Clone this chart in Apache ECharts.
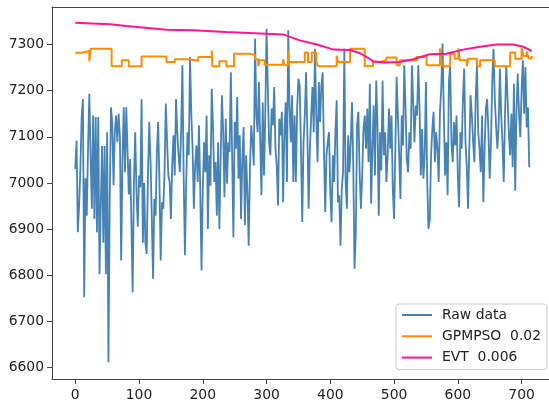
<!DOCTYPE html>
<html>
<head>
<meta charset="utf-8">
<script src="https://cdn.jsdelivr.net/npm/echarts@6/dist/echarts.min.js"></script>
<style>
html, body { margin: 0; padding: 0; background: #fff; }
#chart { width: 549px; height: 406px; }
</style>
</head>
<body>
<div id="chart"></div>
<script>
// raw series, one reading every 2 samples
var rawStep = 2;
var rawData = [
	7030, 7092, 6893, 6950, 7030, 7143, 7182, 6752, 7010, 6929, 7074, 7193, 7060, 6944, 7146, 6922, 7143, 6893, 7143, 6802,
	6950, 7080, 6870, 7080, 6802, 7110, 6611, 6960, 7164, 7130, 6995, 7110, 7146, 7088, 7150, 7100, 6832, 7050, 7164, 7023,
	7164, 7160, 6975, 7052, 6915, 6763, 7002, 7110, 6980, 6905, 7016, 6990, 7182, 6870, 7000,
	6871, 6846, 7016, 7132, 7050, 6929, 6792, 6965, 6929, 7067, 7132, 7002, 6832, 6958, 6944, 7023, 7172, 7090, 7016, 7002,
	6922, 7038, 7103, 7016, 7182, 7110, 7060, 7023, 7110, 7255, 7016, 6843, 7002, 7110, 7060, 7273, 7150, 7074, 6944, 7038,
	7081, 7002, 7125, 6987, 6810, 6987, 7088, 7023, 7146, 6900, 7060, 6994, 7204, 7125, 7002, 7045, 6929, 7088,
	6900, 7052, 7190, 7110, 6969, 7139, 6998, 7088, 7067, 7240, 7060, 6882, 7132, 7074, 7186, 7009, 7103, 6922, 7052, 7121,
	6908, 7060, 6980, 6864, 7031, 7125, 7088, 7038, 7313, 7146, 7110, 7219, 7222, 6973, 7175, 7016, 7146, 7334, 7208, 7088,
	7060, 7161, 7125, 7208, 7074, 7038, 6951, 7139, 7103, 7154, 6958, 7110, 7175, 7002, 7331, 7168, 7088,
	7190, 7002, 7146, 7002, 7161, 7226, 7211, 7074, 6915, 7088, 7146, 7240, 7110, 6944, 7074, 7146, 7208, 7110, 7291, 7146,
	7045, 7219, 7132, 7211, 7240, 7074, 6937, 7060, 7088, 7110, 6980, 6915, 7060, 7002, 7110, 7179, 6958, 6973, 6864, 6987,
	7023, 7291, 7002, 6944, 7103, 7023, 7088, 7175, 7038, 6814, 6893, 7125, 7154, 7023, 6944, 7016, 7117, 7146,
	7074, 7161, 7045, 7215, 6955, 7074, 7168, 7016, 7222, 7125, 6929, 7110, 7027, 7222, 7060, 7110, 7002, 7060, 7161, 7074,
	7146, 6987, 6922, 7074, 7230, 7146, 7060, 6965, 7146, 7081, 7255, 7161, 7052, 7023, 7110, 7074, 7255, 7175, 7088, 7168,
	7146, 7255, 7161, 7016, 7117, 7009, 7060, 7219, 7002, 6900, 6922, 7060, 7117, 7154, 7045, 7110, 7074,
	7002, 7154, 7204, 7302, 7154, 7016, 7088, 6973, 7219, 7255, 7088, 7045, 7132, 7081, 7146, 7016, 6947, 7110, 7074, 7182,
	7248, 7088, 7038, 6944, 7074, 7190, 7146, 7088, 7045, 7182, 7255, 7110, 7074, 7023, 7146, 6958, 7074, 7161, 7182, 7110,
	7009, 7088, 7219, 7291, 7182, 7125, 7074, 7125, 7248, 7146, 7088, 7002, 7146, 7255, 7182, 7110, 7060, 7150,
	7034, 7215, 6983, 7157, 7237, 7150, 7099, 7200, 7266, 7150, 7251, 7120, 7164, 7034
];

// GPMPSO threshold: level holds from each x until the next
var gpmX = [0, 10, 22, 24, 57, 73, 84, 104, 143, 156, 177, 193, 214, 215, 226, 237, 249, 274, 282, 287, 289, 297, 326, 328, 334, 335, 360, 365, 371, 378, 381, 410, 412, 431, 454, 467, 478, 488, 504, 509, 535, 551, 572, 575, 588, 595, 601, 603, 614, 616, 630, 635, 658, 682, 690, 700, 703, 708, 711, 716];
var gpmY = [7282, 7286, 7264, 7291, 7253, 7266, 7253, 7274, 7262, 7268, 7265, 7273, 7287, 7253, 7264, 7253, 7280, 7277, 7268, 7253, 7266, 7256, 7268, 7255, 7287, 7262, 7283, 7262, 7283, 7262, 7253, 7276, 7262, 7291, 7253, 7262, 7266, 7272, 7255, 7266, 7273, 7255, 7292, 7253, 7280, 7269, 7292, 7266, 7253, 7269, 7253, 7266, 7253, 7283, 7269, 7292, 7275, 7285, 7270, 7275];

// EVT threshold
var evtX = [0, 54, 80, 143, 185, 237, 290, 326, 352, 379, 405, 431, 447, 457, 467, 483, 509, 530, 556, 582, 608, 635, 661, 687, 703, 716];
var evtY = [7347, 7344, 7340, 7332, 7331, 7327, 7324, 7322, 7309, 7300, 7289, 7288, 7281, 7273, 7264, 7261, 7262, 7268, 7279, 7280, 7289, 7295, 7300, 7300, 7295, 7286];

var xTicks = [0, 100, 200, 300, 400, 500, 600, 700];
var yTicks = [6600, 6700, 6800, 6900, 7000, 7100, 7200, 7300];
var names = ['Raw data', 'GPMPSO  0.02', 'EVT  0.006'];

function pairs(xs, ys) {
	var out = [];
	for (var i = 0; i < ys.length; i++) out.push([xs[i], ys[i]]);
	return out;
}
var rawPairs = rawData.map(function(v, i) { return [i * rawStep, v]; });

var axisColor = '#444';
var font = 'DejaVu Sans';

var chart = echarts.init(document.getElementById('chart'), null, { renderer: 'canvas' });
chart.setOption({
	animation: false,
	backgroundColor: '#fff',
	grid: { left: 52, right: 0, top: 7, bottom: 27 },
	legend: {
		orient: 'vertical',
		left: 396,
		top: 304,
		itemWidth: 30,
		itemHeight: 14,
		itemGap: 7.3,
		padding: [4, 6, 5, 5],
		backgroundColor: 'rgba(255,255,255,0.8)',
		borderColor: '#ccc',
		borderWidth: 1,
		borderRadius: 3,
		itemStyle: { opacity: 0 },
		textStyle: { fontFamily: font, fontSize: 13.9, color: '#222', padding: [0, 0, 0, 5] },
		data: names
	},
	xAxis: [{
		type: 'value',
		min: -36.5,
		max: 743,
		splitLine: { show: false },
		axisLine: { onZero: false, lineStyle: { color: axisColor, width: 1 } },
		axisTick: { customValues: xTicks, length: 5, lineStyle: { color: axisColor } },
		axisLabel: { customValues: xTicks, margin: 9, color: '#222', fontFamily: font, fontSize: 13.9 }
	}, {
		type: 'value',
		position: 'top',
		min: -36.5,
		max: 743,
		splitLine: { show: false },
		axisLine: { show: true, onZero: false, lineStyle: { color: axisColor, width: 1 } },
		axisTick: { show: false },
		axisLabel: { show: false }
	}],
	yAxis: {
		type: 'value',
		min: 6574.8,
		max: 7381.4,
		splitLine: { show: false },
		axisLine: { show: true, onZero: false, lineStyle: { color: axisColor, width: 1 } },
		axisTick: { show: true, customValues: yTicks, length: 5, lineStyle: { color: axisColor } },
		axisLabel: {
			customValues: yTicks, margin: 8, color: '#222', fontFamily: font, fontSize: 13.9,
			formatter: function(v) { return String(v); }
		}
	},
	series: [{
		name: names[0],
		type: 'line',
		symbol: 'none',
		sampling: null,
		data: rawPairs,
		lineStyle: { color: '#4682b4', width: 1.8 },
		itemStyle: { color: '#4682b4' }
	}, {
		name: names[1],
		type: 'line',
		symbol: 'none',
		step: 'end',
		data: pairs(gpmX, gpmY),
		lineStyle: { color: '#ff8c00', width: 2 },
		itemStyle: { color: '#ff8c00' }
	}, {
		name: names[2],
		type: 'line',
		symbol: 'none',
		data: pairs(evtX, evtY),
		lineStyle: { color: '#ff1493', width: 2 },
		itemStyle: { color: '#ff1493' }
	}]
});
</script>
</body>
</html>
